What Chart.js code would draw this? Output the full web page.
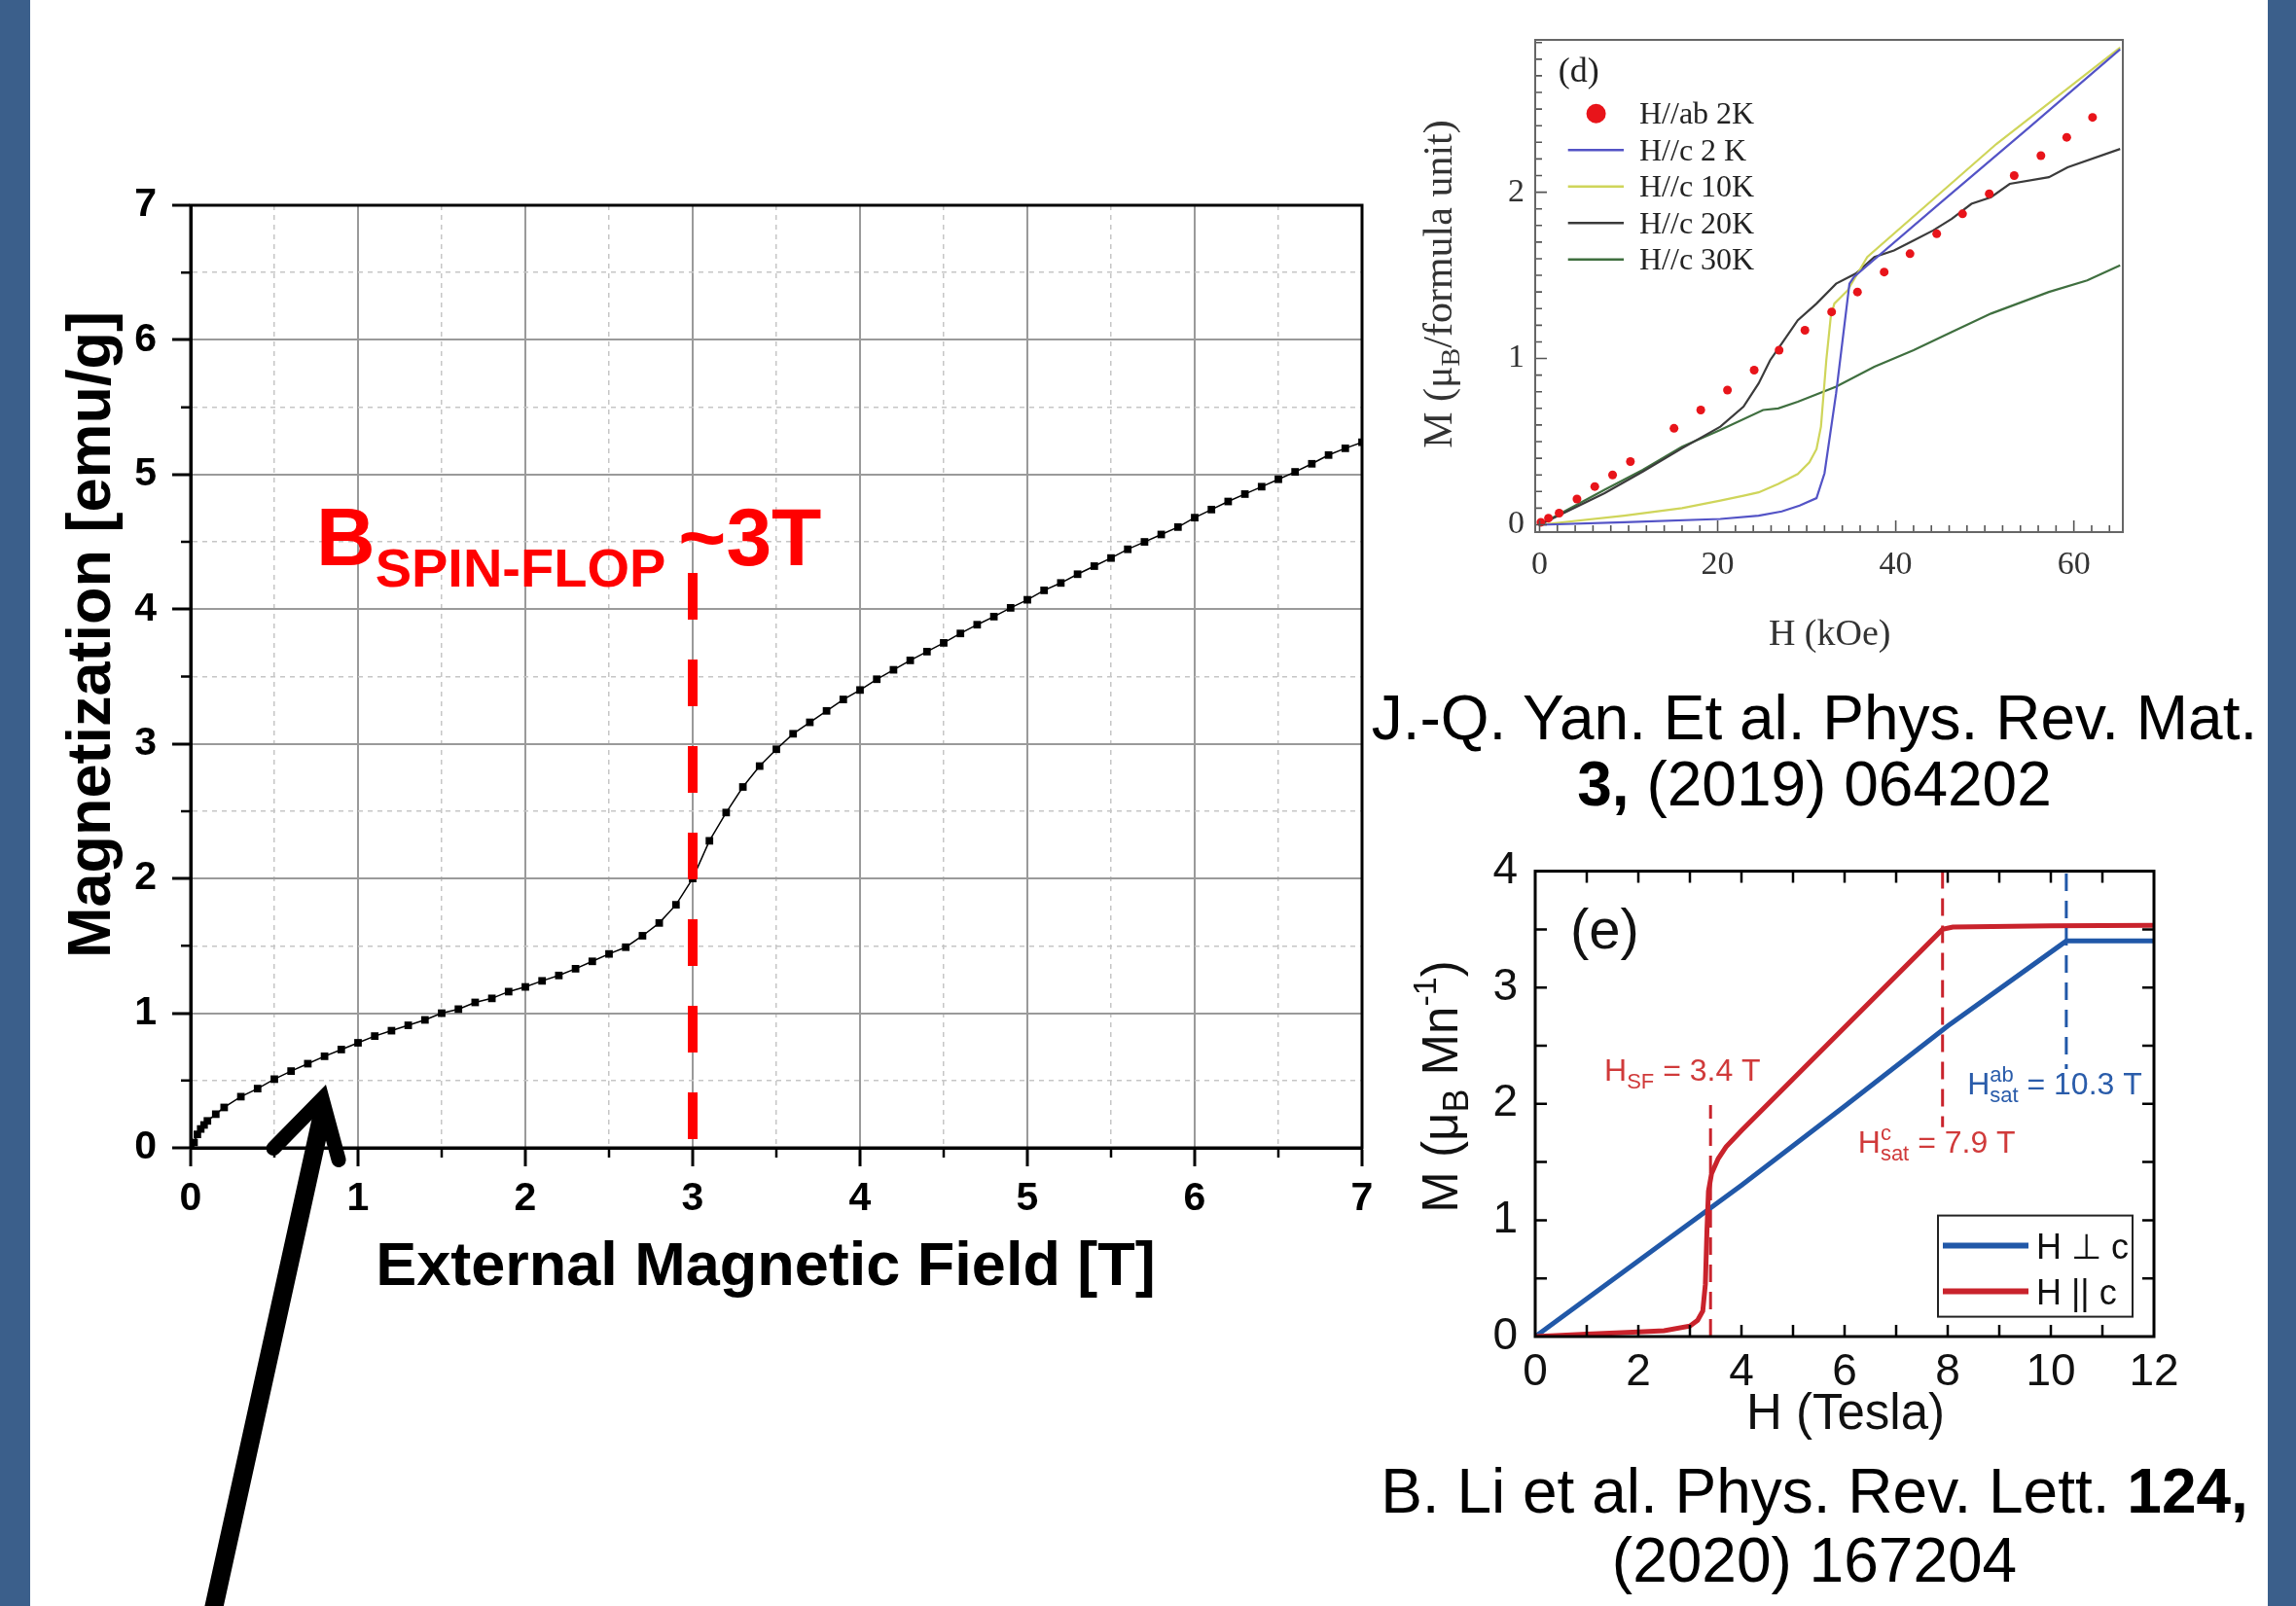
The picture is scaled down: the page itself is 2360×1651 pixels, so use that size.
<!DOCTYPE html>
<html>
<head>
<meta charset="utf-8">
<title>Spin-flop magnetization</title>
<script src="https://cdn.jsdelivr.net/npm/chart.js@4.4.1/dist/chart.umd.min.js"></script>
<style>
  html, body { margin: 0; padding: 0; }
  body { width: 2360px; height: 1651px; position: relative; overflow: hidden; background: #fff;
         font-family: "Liberation Sans", Arial, sans-serif; }
  .band { position: absolute; top: 0; height: 1651px; background: #3b5f8b; }
  canvas { position: absolute; }
  .cite { position: absolute; left: 1400px; width: 930px; text-align: center; font-size: 64px; color: #000; }
</style>
</head>
<body>
<div class="band" style="left:0;width:31px"></div>
<div class="band" style="left:2331px;width:29px"></div>
<canvas id="main" width="1470" height="1651" style="left:0;top:0"></canvas>
<canvas id="yan" width="770" height="700" style="left:1440px;top:0"></canvas>
<canvas id="li" width="830" height="650" style="left:1430px;top:850px"></canvas>
<div class="cite" style="top:704px;line-height:68px">J.-Q. Yan. Et al. Phys. Rev. Mat.<br><b>3,</b> (2019) 064202</div>
<div class="cite" style="top:1498px;line-height:71px">B. Li et al. Phys. Rev. Lett. <b>124,</b><br>(2020) 167204</div>
<script>
// ---- main measurement: M(H) ----
var field = [0, 0.02, 0.04, 0.06, 0.08, 0.1, 0.15, 0.2, 0.3, 0.4, 0.5, 0.6, 0.7, 0.8, 0.9, 1.0,
  1.1, 1.2, 1.3, 1.4, 1.5, 1.6, 1.7, 1.8, 1.9, 2.0, 2.1, 2.2, 2.3, 2.4, 2.5, 2.6, 2.7, 2.8, 2.9, 3.0,
  3.1, 3.2, 3.3, 3.4, 3.5, 3.6, 3.7, 3.8, 3.9, 4.0, 4.1, 4.2, 4.3, 4.4, 4.5, 4.6, 4.7, 4.8, 4.9, 5.0,
  5.1, 5.2, 5.3, 5.4, 5.5, 5.6, 5.7, 5.8, 5.9, 6.0, 6.1, 6.2, 6.3, 6.4, 6.5, 6.6, 6.7, 6.8, 6.9, 7.0];
var magnet = [0, 0.04, 0.10, 0.14, 0.17, 0.20, 0.25, 0.30, 0.38, 0.44, 0.51, 0.57, 0.625, 0.68, 0.73, 0.78,
  0.83, 0.87, 0.91, 0.95, 1.00, 1.03, 1.08, 1.11, 1.16, 1.195, 1.24, 1.28, 1.33, 1.385, 1.44, 1.49, 1.575, 1.67, 1.805, 2.00,
  2.28, 2.49, 2.68, 2.835, 2.96, 3.075, 3.16, 3.245, 3.33, 3.40, 3.48, 3.55, 3.62, 3.685, 3.75, 3.82, 3.885, 3.945, 4.01, 4.07,
  4.14, 4.195, 4.26, 4.32, 4.38, 4.445, 4.50, 4.555, 4.61, 4.68, 4.74, 4.80, 4.855, 4.91, 4.965, 5.02, 5.08, 5.145, 5.195, 5.24];
var flopField = 3;
var arrowTip = [0.78, 0.48];

// ---- (d) Yan et al. ----
var abH = [0.15, 1.0, 2.2, 4.2, 6.2, 8.2, 10.2, 15.1, 18.1, 21.1, 24.1, 26.9, 29.8, 32.8, 35.7, 38.7, 41.6, 44.6, 47.5, 50.5, 53.3, 56.3, 59.2, 62.1];
var abM = [0.015, 0.04, 0.07, 0.155, 0.23, 0.30, 0.38, 0.58, 0.69, 0.81, 0.93, 1.05, 1.17, 1.28, 1.40, 1.52, 1.63, 1.75, 1.87, 1.99, 2.10, 2.22, 2.33, 2.45];
var c2H = [0, 9.5, 20.3, 24.6, 27.2, 29.2, 31.1, 32.0, 33.3, 34.8, 35.3, 45, 55, 65.2];
var c2M = [0, 0.015, 0.035, 0.055, 0.08, 0.115, 0.16, 0.31, 0.79, 1.45, 1.49, 1.935, 2.39, 2.86];
var c10H = [0, 9.5, 16, 20.3, 22.9, 24.6, 26.8, 29, 30.3, 31.1, 31.6, 32.2, 32.7, 33.1, 34.6, 36.8, 51.3, 65.2];
var c10M = [0, 0.055, 0.10, 0.145, 0.175, 0.195, 0.245, 0.305, 0.375, 0.455, 0.59, 0.99, 1.25, 1.33, 1.41, 1.61, 2.29, 2.87];
var c20H = [0, 7.3, 11.6, 16, 20.3, 22.9, 24.6, 25.9, 27.2, 29, 31.1, 33.3, 35.5, 37.6, 39.8, 42, 44.2, 46.3, 48.5, 50.7, 52.8, 57.2, 59.3, 65.2];
var c20M = [0, 0.19, 0.32, 0.46, 0.59, 0.71, 0.85, 0.99, 1.09, 1.23, 1.33, 1.45, 1.51, 1.61, 1.65, 1.71, 1.77, 1.84, 1.93, 1.97, 2.05, 2.09, 2.15, 2.26];
var c30H = [0, 7.3, 11.6, 16, 20.3, 25.1, 26.8, 29, 33.3, 37.6, 42, 46.3, 50.7, 57.2, 61.5, 65.2];
var c30M = [0, 0.21, 0.33, 0.47, 0.57, 0.69, 0.70, 0.74, 0.83, 0.95, 1.05, 1.16, 1.27, 1.40, 1.47, 1.56];
var yanXTicks = [0, 20, 40, 60];
var yanYTicks = [0, 1, 2];

// ---- (e) Li et al. ----
var perpH = [0, 2, 4, 6, 8, 10.3, 12];
var perpM = [0, 0.65, 1.30, 1.98, 2.67, 3.40, 3.40];
var paraH = [0, 1, 2, 2.5, 3.0, 3.15, 3.25, 3.3, 3.33, 3.36, 3.42, 3.55, 3.7, 4.0, 7.9, 8.1, 10, 12];
var paraM = [0, 0.02, 0.04, 0.05, 0.09, 0.14, 0.22, 0.45, 0.9, 1.25, 1.40, 1.53, 1.63, 1.77, 3.50, 3.52, 3.53, 3.535];
var liXTicks = [0, 2, 4, 6, 8, 10, 12];
var liYTicks = [0, 1, 2, 3, 4];

var SANS = '"Liberation Sans", Arial, Helvetica, sans-serif';
var SERIF = '"Liberation Serif", "Times New Roman", serif';

function pairs(xs, ys) {
  return xs.map(function (v, i) { return { x: v, y: ys[i] }; });
}

// draws a run of text pieces (for sub/superscripts), optionally rotated
function drawParts(ctx, parts, x, y, o) {
  ctx.save();
  ctx.translate(x, y);
  if (o.rot) ctx.rotate(o.rot);
  ctx.fillStyle = o.color || '#000';
  ctx.textBaseline = 'alphabetic';
  ctx.textAlign = 'left';
  var fontOf = function (p) { return (o.bold ? 'bold ' : '') + p.s + 'px ' + (o.family || SANS); };
  var total = 0;
  parts.forEach(function (p) { ctx.font = fontOf(p); p.w = ctx.measureText(p.t).width + (p.gap || 0); if (!p.stay) total += p.w; });
  var cx = o.center ? -total / 2 : 0;
  parts.forEach(function (p) { ctx.font = fontOf(p); ctx.fillText(p.t, cx + (p.gap || 0), p.dy || 0); if (!p.stay) cx += p.w; });
  ctx.restore();
}

function isMajor(c) { return c.tick && Number.isInteger(c.tick.value); }

Chart.defaults.font.family = SANS;

// ---------------- main chart ----------------
var mainDeco = {
  id: 'mainDeco',
  afterDraw: function (chart) {
    var ctx = chart.ctx, a = chart.chartArea, x = chart.scales.x, y = chart.scales.y;
    ctx.save();
    ctx.strokeStyle = '#000';
    ctx.lineWidth = 3;
    ctx.strokeRect(a.left, a.top, a.right - a.left, a.bottom - a.top);
    // minor ticks
    ctx.lineWidth = 2.5;
    ctx.beginPath();
    for (var v = 0.5; v < 7; v += 1) {
      ctx.moveTo(x.getPixelForValue(v), a.bottom); ctx.lineTo(x.getPixelForValue(v), a.bottom + 10);
      ctx.moveTo(a.left, y.getPixelForValue(v)); ctx.lineTo(a.left - 10, y.getPixelForValue(v));
    }
    ctx.stroke();

    // spin-flop marker
    var fx = x.getPixelForValue(flopField);
    ctx.strokeStyle = '#ff0000';
    ctx.lineWidth = 10;
    ctx.setLineDash([48, 41]);
    ctx.beginPath(); ctx.moveTo(fx, y.getPixelForValue(4.27)); ctx.lineTo(fx, a.bottom); ctx.stroke();
    ctx.setLineDash([]);
    drawParts(ctx, [{ t: 'B', s: 84 }, { t: 'SPIN-FLOP', s: 56, dy: 22 }, { t: '~3T', s: 84, gap: 13 }],
      x.getPixelForValue(0.75), y.getPixelForValue(4.33), { color: '#ff0000', bold: true });

    // arrow pointing at the low-field part
    var tx = x.getPixelForValue(arrowTip[0]), ty = y.getPixelForValue(arrowTip[1]);
    ctx.strokeStyle = '#000';
    ctx.lineCap = 'round';
    ctx.lineWidth = 19;
    ctx.beginPath(); ctx.moveTo(tx, ty + 37); ctx.lineTo(tx - 115, ty + 560); ctx.stroke();
    ctx.lineWidth = 15;
    ctx.lineJoin = 'miter';
    ctx.beginPath(); ctx.moveTo(tx - 49, ty + 67); ctx.lineTo(tx + 1, ty + 16); ctx.lineTo(tx + 18, ty + 79); ctx.stroke();

    // axis titles
    drawParts(ctx, [{ t: 'Magnetization [emu/g]', s: 63 }], a.left - 83, (a.top + a.bottom) / 2 - 43,
      { rot: -Math.PI / 2, center: true, bold: true });
    drawParts(ctx, [{ t: 'External Magnetic Field [T]', s: 63 }], (a.left + a.right) / 2 - 11, a.bottom + 141,
      { center: true, bold: true });
    ctx.restore();
  }
};

var mainGrid = {
  color: function (c) { return isMajor(c) ? '#9a9a9a' : '#c6c6c6'; },
  lineWidth: function (c) { return isMajor(c) ? 2 : 1.5; },
  tickLength: 19,
  tickWidth: 3,
  tickColor: function (c) { return isMajor(c) ? '#000' : 'rgba(0,0,0,0)'; }
};
var mainBorder = { color: '#000', width: 3, dash: function (c) { return (c.tick && !Number.isInteger(c.tick.value)) ? [5, 5] : []; } };
var mainTickFont = { size: 41, weight: 'bold' };

new Chart(document.getElementById('main'), {
  type: 'line',
  data: {
    datasets: [{
      data: pairs(field, magnet),
      borderColor: '#000', borderWidth: 1.5,
      pointStyle: 'rect', pointRadius: 5.5, pointBorderWidth: 0, pointBackgroundColor: '#000'
    }]
  },
  options: {
    responsive: false, animation: false,
    layout: { padding: { left: 0, top: 211, right: 70, bottom: 0 } },
    plugins: { legend: { display: false }, tooltip: { enabled: false } },
    scales: {
      x: {
        type: 'linear', min: 0, max: 7,
        afterFit: function (s) { s.height = 471; },
        ticks: { stepSize: 0.5, autoSkip: false, maxRotation: 0, padding: 9, color: '#000', font: mainTickFont,
          callback: function (v) { return Number.isInteger(v) ? String(v) : ''; } },
        grid: mainGrid, border: mainBorder
      },
      y: {
        type: 'linear', min: 0, max: 7,
        afterFit: function (s) { s.width = 196; },
        ticks: { stepSize: 0.5, autoSkip: false, padding: 16, color: '#000', font: mainTickFont,
          callback: function (v) { return Number.isInteger(v) ? String(v) : ''; } },
        grid: mainGrid, border: mainBorder
      }
    }
  },
  plugins: [mainDeco]
});

// ---------------- (d) ----------------
var yanDeco = {
  id: 'yanDeco',
  afterDraw: function (chart) {
    var ctx = chart.ctx, a = chart.chartArea, x = chart.scales.x, y = chart.scales.y;
    ctx.save();
    ctx.strokeStyle = '#555';
    ctx.lineWidth = 1.6;
    ctx.beginPath();
    for (var h = 0; h <= 64; h += 2) {
      var px = x.getPixelForValue(h), len = (h % 20 === 0) ? 12 : 7;
      ctx.moveTo(px, a.bottom); ctx.lineTo(px, a.bottom - len);
    }
    for (var k = 0; k <= 29; k++) {
      var py = y.getPixelForValue(k / 10), l2 = (k % 10 === 0) ? 12 : 7;
      ctx.moveTo(a.left, py); ctx.lineTo(a.left + l2, py);
    }
    ctx.stroke();
    ctx.strokeStyle = '#666';
    ctx.lineWidth = 2;
    ctx.strokeRect(a.left, a.top, a.right - a.left, a.bottom - a.top);

    // legend
    chart.data.datasets.forEach(function (ds, i) {
      var cy = a.top + 75.7 + 37.5 * i;
      if (i === 0) {
        ctx.fillStyle = ds.pointBackgroundColor;
        ctx.beginPath(); ctx.arc(a.left + 62.6, cy, 10, 0, Math.PI * 2); ctx.fill();
      } else {
        ctx.strokeStyle = ds.borderColor; ctx.lineWidth = 2.5;
        ctx.beginPath(); ctx.moveTo(a.left + 33.7, cy); ctx.lineTo(a.left + 91, cy); ctx.stroke();
      }
      drawParts(ctx, [{ t: ds.label, s: 32 }], a.left + 107, cy + 10.5, { family: SERIF, color: '#222' });
    });
    drawParts(ctx, [{ t: '(d)', s: 36 }], x.getPixelForValue(2.1), y.getPixelForValue(2.665), { family: SERIF, color: '#222' });

    // axis titles
    drawParts(ctx, [{ t: 'M (\u03bc', s: 42 }, { t: 'B', s: 28, dy: 8 }, { t: '/formula unit)', s: 42 }],
      52, 292, { rot: -Math.PI / 2, center: true, family: SERIF, color: '#333' });
    drawParts(ctx, [{ t: 'H (kOe)', s: 38 }], 440.7, 663, { center: true, family: SERIF, color: '#333' });
    ctx.restore();
  }
};

var yanTickFont = { size: 34, family: SERIF };
var lineStyle = function (label, color, xs, ys) {
  return { label: label, data: pairs(xs, ys), borderColor: color, borderWidth: 2.2, pointRadius: 0 };
};

new Chart(document.getElementById('yan'), {
  type: 'line',
  data: {
    datasets: [
      { label: 'H//ab 2K', data: pairs(abH, abM), showLine: false, pointRadius: 4.5, pointBorderWidth: 0,
        pointBackgroundColor: '#e8141a', borderColor: '#e8141a' },
      lineStyle('H//c 2 K', '#5353c6', c2H, c2M),
      lineStyle('H//c 10K', '#cfd55a', c10H, c10M),
      lineStyle('H//c 20K', '#3b3b3b', c20H, c20M),
      lineStyle('H//c 30K', '#3f6f3f', c30H, c30M)
    ]
  },
  options: {
    responsive: false, animation: false,
    layout: { padding: { left: 0, top: 41, right: 28, bottom: 0 } },
    plugins: { legend: { display: false }, tooltip: { enabled: false } },
    scales: {
      x: {
        type: 'linear', min: -0.49, max: 65.5,
        afterFit: function (s) { s.height = 153; },
        afterBuildTicks: function (s) { s.ticks = yanXTicks.map(function (v) { return { value: v }; }); },
        ticks: { padding: 14, color: '#333', font: yanTickFont, maxRotation: 0, callback: function (v) { return String(v); } },
        grid: { display: false, drawTicks: false }, border: { display: false }
      },
      y: {
        type: 'linear', min: -0.044, max: 2.916,
        afterFit: function (s) { s.width = 138; },
        afterBuildTicks: function (s) { s.ticks = yanYTicks.map(function (v) { return { value: v }; }); },
        ticks: { padding: 11, color: '#333', font: yanTickFont, callback: function (v) { return String(v); } },
        grid: { display: false, drawTicks: false }, border: { display: false }
      }
    }
  },
  plugins: [yanDeco]
});

// ---------------- (e) ----------------
var liRed = '#c9232c', liBlue = '#2158a8', liRedText = '#d03a3a', liBlueText = '#2a5caa';
var liDeco = {
  id: 'liDeco',
  afterDraw: function (chart) {
    var ctx = chart.ctx, a = chart.chartArea, x = chart.scales.x, y = chart.scales.y;
    ctx.save();
    // dashed field markers
    ctx.lineWidth = 3;
    ctx.setLineDash([18, 10]);
    [[3.4, 0, 1.99, liRed], [7.9, 4, 1.8, liRed], [10.3, 3.98, 2.3, liBlue]].forEach(function (m) {
      ctx.strokeStyle = m[3];
      ctx.beginPath(); ctx.moveTo(x.getPixelForValue(m[0]), y.getPixelForValue(m[1]));
      ctx.lineTo(x.getPixelForValue(m[0]), y.getPixelForValue(m[2])); ctx.stroke();
    });
    ctx.setLineDash([]);

    // frame and inward ticks
    ctx.strokeStyle = '#000';
    ctx.lineWidth = 2.5;
    ctx.beginPath();
    for (var t = 1; t < 12; t++) {
      var px = x.getPixelForValue(t);
      ctx.moveTo(px, a.bottom); ctx.lineTo(px, a.bottom - 12);
      ctx.moveTo(px, a.top); ctx.lineTo(px, a.top + 12);
    }
    for (var m = 0.5; m < 4; m += 0.5) {
      var py = y.getPixelForValue(m);
      ctx.moveTo(a.left, py); ctx.lineTo(a.left + 12, py);
      ctx.moveTo(a.right, py); ctx.lineTo(a.right - 12, py);
    }
    ctx.stroke();
    ctx.lineWidth = 3;
    ctx.strokeRect(a.left, a.top, a.right - a.left, a.bottom - a.top);

    // annotations
    drawParts(ctx, [{ t: '(e)', s: 58 }], x.getPixelForValue(0.68), y.getPixelForValue(3.34), { color: '#111' });
    drawParts(ctx, [{ t: 'H', s: 32 }, { t: 'SF', s: 22, dy: 8 }, { t: ' = 3.4 T', s: 32 }],
      x.getPixelForValue(1.34), y.getPixelForValue(2.20), { color: liRedText });
    drawParts(ctx, [{ t: 'H', s: 32 }, { t: 'c', s: 22, dy: -13, stay: true }, { t: 'sat', s: 22, dy: 8 }, { t: ' = 7.9 T', s: 32 }],
      x.getPixelForValue(6.26), y.getPixelForValue(1.58), { color: liRedText });
    drawParts(ctx, [{ t: 'H', s: 32 }, { t: 'ab', s: 22, dy: -13, stay: true }, { t: 'sat', s: 22, dy: 8 }, { t: ' = 10.3 T', s: 32 }],
      x.getPixelForValue(8.38), y.getPixelForValue(2.08), { color: liBlueText });

    // legend box
    var lx = a.left + 414, ly = a.top + 354;
    ctx.fillStyle = '#fff';
    ctx.fillRect(lx, ly, 200, 104);
    ctx.strokeStyle = '#222'; ctx.lineWidth = 2;
    ctx.strokeRect(lx, ly, 200, 104);
    chart.data.datasets.forEach(function (ds, i) {
      var cy = ly + 31 + 47 * i;
      ctx.strokeStyle = ds.borderColor; ctx.lineWidth = 6;
      ctx.beginPath(); ctx.moveTo(lx + 5, cy); ctx.lineTo(lx + 93, cy); ctx.stroke();
      drawParts(ctx, [{ t: ds.label, s: 36 }], lx + 101, cy + 13, { color: '#111' });
    });

    // axis titles
    drawParts(ctx, [{ t: 'M (\u03bc', s: 51 }, { t: 'B', s: 36, dy: 11 }, { t: ' Mn', s: 51 }, { t: '-1', s: 34, dy: -22 }, { t: ')', s: 51 }],
      68, 267, { rot: -Math.PI / 2, center: true, color: '#111' });
    drawParts(ctx, [{ t: 'H (Tesla)', s: 51 }], 467, 619, { center: true, color: '#111' });
    ctx.restore();
  }
};

var liTickFont = { size: 46 };
new Chart(document.getElementById('li'), {
  type: 'line',
  data: {
    datasets: [
      { label: 'H \u22a5 c', data: pairs(perpH, perpM), borderColor: liBlue, borderWidth: 5, pointRadius: 0, order: 1 },
      { label: 'H || c', data: pairs(paraH, paraM), borderColor: liRed, borderWidth: 5, pointRadius: 0, order: 0 }
    ]
  },
  options: {
    responsive: false, animation: false,
    layout: { padding: { left: 0, top: 44, right: 46, bottom: 0 } },
    plugins: { legend: { display: false }, tooltip: { enabled: false } },
    scales: {
      x: {
        type: 'linear', min: 0, max: 12,
        afterFit: function (s) { s.height = 126; },
        afterBuildTicks: function (s) { s.ticks = liXTicks.map(function (v) { return { value: v }; }); },
        ticks: { padding: 10, color: '#111', font: liTickFont, maxRotation: 0, callback: function (v) { return String(v); } },
        grid: { display: false, drawTicks: false }, border: { display: false }
      },
      y: {
        type: 'linear', min: 0, max: 4,
        afterFit: function (s) { s.width = 148; },
        afterBuildTicks: function (s) { s.ticks = liYTicks.map(function (v) { return { value: v }; }); },
        ticks: { padding: 18, color: '#111', font: liTickFont, callback: function (v) { return String(v); } },
        grid: { display: false, drawTicks: false }, border: { display: false }
      }
    }
  },
  plugins: [liDeco]
});
</script>
</body>
</html>
